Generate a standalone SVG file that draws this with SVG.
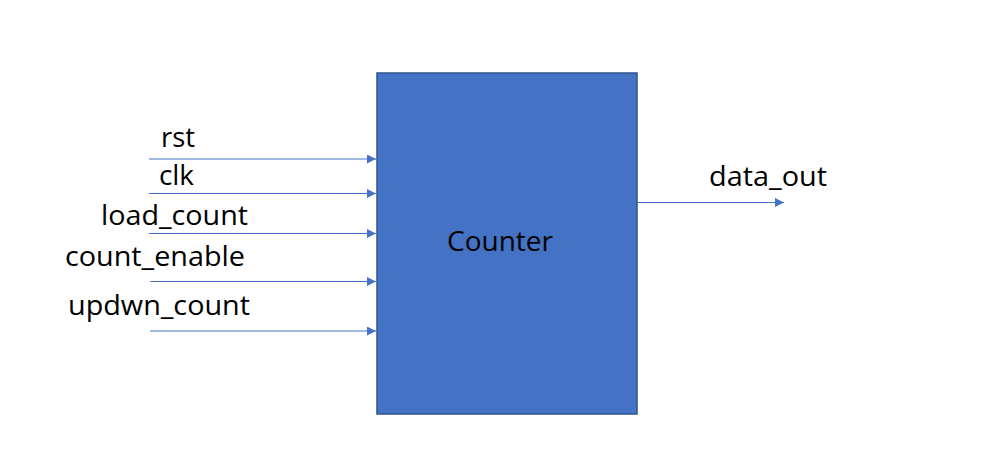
<svg xmlns="http://www.w3.org/2000/svg" width="1002" height="473" viewBox="0 0 1002 473">
<defs>
<style>
.lbl{font-family:"Open Sans","Liberation Sans",sans-serif;font-size:27px;fill:#000;}
.wire{stroke:#4472C4;stroke-width:1.2;fill:none;marker-end:url(#ah);}
</style>
<marker id="ah" viewBox="0 0 10 10" refX="10" refY="5" markerWidth="9" markerHeight="9" markerUnits="userSpaceOnUse" orient="auto">
<path d="M0,0 L10,5 L0,10 Z" fill="#4472C4"/>
</marker>
</defs>
<rect width="1002" height="473" fill="#fff"/>
<g id="counter">
<rect x="377" y="73" width="260" height="341" fill="#4472C4" stroke="#2F528F" stroke-width="1.5"/>
<text class="lbl" x="447" y="251" textLength="106" lengthAdjust="spacingAndGlyphs">Counter</text>
</g>
<g id="connectors">
<line class="wire" x1="149" y1="159" x2="376" y2="159"/>
<line class="wire" x1="149" y1="193.5" x2="376" y2="193.5"/>
<line class="wire" x1="149" y1="233.5" x2="376" y2="233.5"/>
<line class="wire" x1="150" y1="281.5" x2="376" y2="281.5"/>
<line class="wire" x1="150" y1="331" x2="376" y2="331"/>
<line class="wire" x1="637" y1="202.5" x2="784" y2="202.5"/>
</g>
<g id="labels">
<text class="lbl" x="161" y="147" textLength="34" lengthAdjust="spacingAndGlyphs">rst</text>
<text class="lbl" x="159" y="185" textLength="35" lengthAdjust="spacingAndGlyphs">clk</text>
<text class="lbl" x="101" y="225" textLength="147" lengthAdjust="spacingAndGlyphs">load_count</text>
<text class="lbl" x="65" y="266" textLength="180" lengthAdjust="spacingAndGlyphs">count_enable</text>
<text class="lbl" x="68" y="315" textLength="182" lengthAdjust="spacingAndGlyphs">updwn_count</text>
<text class="lbl" x="709" y="186" textLength="118" lengthAdjust="spacingAndGlyphs">data_out</text>
</g>
</svg>
